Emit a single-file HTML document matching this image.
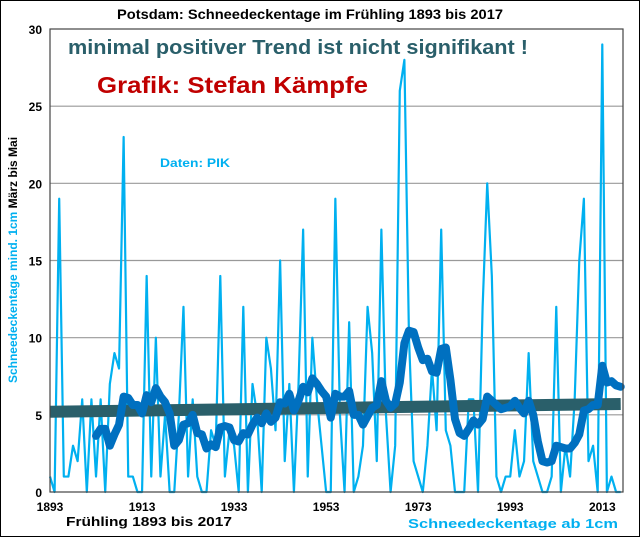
<!DOCTYPE html>
<html><head><meta charset="utf-8"><style>
body{margin:0;background:#fff}
svg{display:block;font-family:"Liberation Sans",Arial,sans-serif}
</style></head><body>
<svg width="640" height="537" viewBox="0 0 640 537">
<rect x="0.5" y="0.5" width="639" height="536" fill="#fff" stroke="#000"/>
<text x="117" y="19" font-size="14" font-weight="bold" textLength="386" lengthAdjust="spacingAndGlyphs">Potsdam:  Schneedeckentage  im Frühling 1893 bis 2017</text>
<g id="grid"></g>
<g id="yt"></g>
<g id="xt"></g>
<g id="series"></g>
<rect x="50" y="29" width="573" height="463" fill="none" stroke="#444" stroke-width="1.2"/>
<text x="68" y="54" font-size="20" font-weight="bold" fill="#2a5f6a" textLength="460" lengthAdjust="spacingAndGlyphs">minimal positiver Trend ist nicht signifikant !</text>
<text x="97" y="93" font-size="23" font-weight="bold" fill="#c00000" textLength="271" lengthAdjust="spacingAndGlyphs">Grafik: Stefan Kämpfe</text>
<text x="160" y="167" font-size="12" font-weight="bold" fill="#00b0f0" textLength="70" lengthAdjust="spacingAndGlyphs">Daten: PIK</text>
<text transform="translate(17,260) rotate(-90)" text-anchor="middle" font-size="12" font-weight="bold" fill="#00b0f0">Schneedeckentage mind. 1cm <tspan fill="#000">März bis Mai</tspan></text>
<text x="66" y="526" font-size="13" font-weight="bold" textLength="166" lengthAdjust="spacingAndGlyphs">Frühling 1893 bis 2017</text>
<text x="408" y="528" font-size="13" font-weight="bold" fill="#00b0f0" textLength="210" lengthAdjust="spacingAndGlyphs">Schneedeckentage  ab 1cm</text>
</svg>
<script>
const years=[];for(let y=1893;y<=2017;y++)years.push(y);
const snowDays=[1,0,19,1,1,3,2,6,0,6,1,6,0,7,9,8,23,1,1,0,0,14,1,10,1,5,0,0,5,12,1,6,1,0,0,4,3,14,1,4,3,0,12,0,7,5,0,10,8,4,15,2,7,0,7,17,1,10,6,3,0,0,19,5,0,11,0,1,3,12,9,2,17,5,0,3,26,28,10,2,1,0,3,8,4,17,4,3,0,0,0,6,6,0,12,20,14,1,0,1,1,4,1,2,9,2,1,0,0,1,12,0,3,1,6,15,19,2,3,0,29,0,1,0,0];
const yTicks=[0,5,10,15,20,25,30];
const xTicks=[1893,1913,1933,1953,1973,1993,2013];
const trendYears=[1893,2017];
const trendValues=[5.2,5.7];
const NS="http://www.w3.org/2000/svg";
const X=y=>50+(y-1893)*(573/124.5);
const Y=v=>492-v*(463/30);
function mk(t,a,p){const e=document.createElementNS(NS,t);for(const k in a)e.setAttribute(k,a[k]);document.getElementById(p).appendChild(e);return e;}
yTicks.forEach(v=>{
 if(v>0&&v<30){const g=mk('line',{x1:50,x2:623,y1:Y(v),y2:Y(v),stroke:'#999','stroke-width':1.2},'grid');
 
 }
 const t=mk('text',{x:42,y:Y(v)+5,'text-anchor':'end','font-size':12,'font-weight':'bold'},'yt');t.textContent=v;
 
 
});
xTicks.forEach(v=>{
 const t=mk('text',{x:X(v),y:511,'text-anchor':'middle','font-size':12,'font-weight':'bold'},'xt');t.textContent=v;
 
 
});
const n=years.length;
const raw=mk('polyline',{points:years.map((y,i)=>X(y)+','+Y(snowDays[i])).join(' '),fill:'none',stroke:'#00b0f0','stroke-width':2.2,'stroke-linejoin':'round'},'series');


const tr=mk('line',{x1:X(trendYears[0]),y1:Y(trendValues[0]),x2:X(trendYears[1]),y2:Y(trendValues[1]),stroke:'#2a5f6a','stroke-width':12},'series');


const ma=[];for(let i=10;i<n;i++){let s=0;for(let j=i-10;j<=i;j++)s+=snowDays[j];ma.push(X(years[i])+','+Y(s/11));}
const m=mk('polyline',{points:ma.join(' '),fill:'none',stroke:'#0070c0','stroke-width':8,'stroke-linejoin':'round','stroke-linecap':'round'},'series');


</script>
</body></html>
